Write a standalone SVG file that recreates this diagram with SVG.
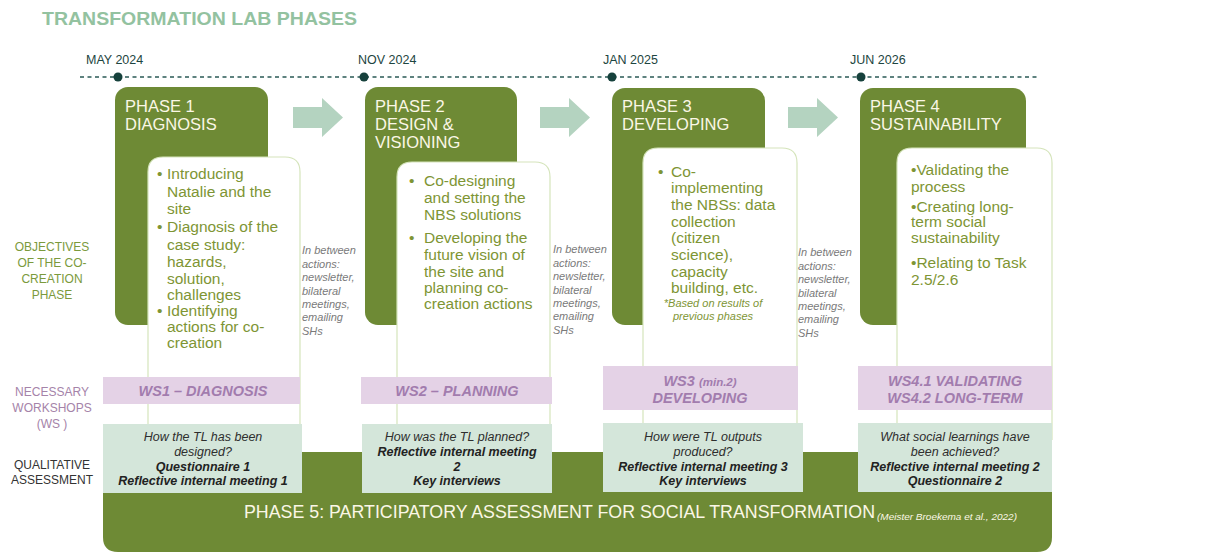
<svg xmlns="http://www.w3.org/2000/svg" width="1210" height="557" viewBox="0 0 1210 557">
<style>
.dark{fill:#6e8a35}
.wbox{fill:#fff;stroke:#d5e4bb;stroke-width:1.2}
.hdr{font-family:"Liberation Sans",Arial,sans-serif;font-size:16.5px;fill:#fbf7e6}
.bul{font-family:"Liberation Sans",Arial,sans-serif;font-size:15.5px;fill:#7e9534}
.note{font-family:"Liberation Sans",Arial,sans-serif;font-size:11px;font-style:italic;fill:#7e9534}
.btw{font-family:"Liberation Sans",Arial,sans-serif;font-size:11px;font-style:italic;fill:#7a7a7a}
.date{font-family:"Liberation Sans",Arial,sans-serif;font-size:12.5px;fill:#1d4541}
.lblg{font-family:"Liberation Sans",Arial,sans-serif;font-size:12px;fill:#7b9a3c;text-anchor:middle}
.lblp{font-family:"Liberation Sans",Arial,sans-serif;font-size:12px;fill:#a583a9;text-anchor:middle}
.lblk{font-family:"Liberation Sans",Arial,sans-serif;font-size:12px;fill:#333;text-anchor:middle}
.ws{fill:#e4d2e6}
.wst{font-family:"Liberation Sans",Arial,sans-serif;font-size:14.5px;font-weight:bold;font-style:italic;fill:#a27cae;text-anchor:middle}
.qa{fill:#d4e6da}
.qat{font-family:"Liberation Sans",Arial,sans-serif;font-size:12.5px;font-style:italic;fill:#2e2e2e;text-anchor:middle}
.qab{font-family:"Liberation Sans",Arial,sans-serif;font-size:12.5px;font-style:italic;font-weight:bold;fill:#222;text-anchor:middle}
.arr{fill:#b4d3c0}
.dot{fill:#16413c}
</style>

<text x="42" y="25" font-family="Liberation Sans,Arial,sans-serif" font-size="19" font-weight="bold" fill="#93c2a0" textLength="315" lengthAdjust="spacingAndGlyphs">TRANSFORMATION LAB PHASES</text>

<g id="timeline">
  <line x1="80" y1="77" x2="1040" y2="77" stroke="#2a5a55" stroke-width="1.3" stroke-dasharray="4 3.5"/>
  <circle class="dot" cx="118" cy="77" r="4.5"/>
  <circle class="dot" cx="364" cy="77" r="4.5"/>
  <circle class="dot" cx="612" cy="77" r="4.5"/>
  <circle class="dot" cx="861" cy="77" r="4.5"/>
  <text class="date" x="86" y="64">MAY 2024</text>
  <text class="date" x="358" y="64">NOV 2024</text>
  <text class="date" x="603" y="64">JAN 2025</text>
  <text class="date" x="850" y="64">JUN 2026</text>
</g>

<g id="labels">
  <text class="lblg" x="52" y="251">OBJECTIVES</text>
  <text class="lblg" x="52" y="267">OF THE CO-</text>
  <text class="lblg" x="52" y="283">CREATION</text>
  <text class="lblg" x="52" y="299">PHASE</text>
  <text class="lblp" x="52" y="396">NECESSARY</text>
  <text class="lblp" x="52" y="412">WORKSHOPS</text>
  <text class="lblp" x="52" y="428">(WS )</text>
  <text class="lblk" x="52" y="469">QUALITATIVE</text>
  <text class="lblk" x="52" y="484">ASSESSMENT</text>
</g>

<g id="phase5">
  <path class="dark" d="M103 452 H1052 V537 Q1052 552 1037 552 H118 Q103 552 103 537 Z"/>
  <text x="244" y="518" font-family="Liberation Sans,Arial,sans-serif" font-size="17.5" fill="#fbf7e6" textLength="631" lengthAdjust="spacingAndGlyphs">PHASE 5: PARTICIPATORY ASSESSMENT FOR SOCIAL TRANSFORMATION</text>
  <text x="877" y="520" font-family="Liberation Sans,Arial,sans-serif" font-size="9" font-style="italic" fill="#fbf7e6" textLength="140" lengthAdjust="spacingAndGlyphs">(Meister Broekema et al., 2022)</text>
</g>

<g id="connectors">
  <path class="arr" d="M293 107 H322 V98 L343 117.5 L322 137 V128 H293 Z"/>
  <path class="arr" d="M540 107 H569 V98 L590 117.5 L569 137 V128 H540 Z"/>
  <path class="arr" d="M788 107 H817 V98 L838 117.5 L817 137 V128 H788 Z"/>
</g>

<g id="phase1">
  <rect class="dark" x="115" y="87" width="153" height="238" rx="13"/>
  <text class="hdr" x="125" y="112">PHASE 1</text>
  <text class="hdr" x="125" y="130">DIAGNOSIS</text>
  <path class="wbox" d="M148 440 V172 Q148 157 163 157 H285 Q300 157 300 172 V440"/>
  <g class="bul">
    <text x="157" y="179">•</text><text x="167" y="179">Introducing</text>
    <text x="167" y="197">Natalie and the</text>
    <text x="167" y="214">site</text>
    <text x="157" y="232">•</text><text x="167" y="232">Diagnosis of the</text>
    <text x="167" y="250">case study:</text>
    <text x="167" y="267">hazards,</text>
    <text x="167" y="284">solution,</text>
    <text x="167" y="300">challenges</text>
    <text x="157" y="316">•</text><text x="167" y="316">Identifying</text>
    <text x="167" y="332">actions for co-</text>
    <text x="167" y="348">creation</text>
  </g>
</g>

<g id="between1" class="btw">
  <text x="302" y="254">In between</text>
  <text x="302" y="268">actions:</text>
  <text x="302" y="281">newsletter,</text>
  <text x="302" y="295">bilateral</text>
  <text x="302" y="308">meetings,</text>
  <text x="302" y="321">emailing</text>
  <text x="302" y="335">SHs</text>
</g>

<g id="phase2">
  <rect class="dark" x="365" y="87" width="152" height="238" rx="13"/>
  <text class="hdr" x="375" y="112">PHASE 2</text>
  <text class="hdr" x="375" y="130">DESIGN &amp;</text>
  <text class="hdr" x="375" y="148">VISIONING</text>
  <path class="wbox" d="M397 440 V177 Q397 162 412 162 H535 Q550 162 550 177 V440"/>
  <g class="bul">
    <text x="409" y="186">•</text><text x="424" y="186">Co-designing</text>
    <text x="424" y="203">and setting the</text>
    <text x="424" y="220">NBS solutions</text>
    <text x="409" y="243">•</text><text x="424" y="243">Developing the</text>
    <text x="424" y="260">future vision of</text>
    <text x="424" y="277">the site and</text>
    <text x="424" y="293">planning co-</text>
    <text x="424" y="309">creation actions</text>
  </g>
</g>

<g id="between2" class="btw">
  <text x="553" y="253">In between</text>
  <text x="553" y="267">actions:</text>
  <text x="553" y="280">newsletter,</text>
  <text x="553" y="294">bilateral</text>
  <text x="553" y="307">meetings,</text>
  <text x="553" y="320">emailing</text>
  <text x="553" y="334">SHs</text>
</g>

<g id="phase3">
  <rect class="dark" x="612" y="88" width="153" height="237" rx="13"/>
  <text class="hdr" x="622" y="112">PHASE 3</text>
  <text class="hdr" x="622" y="130">DEVELOPING</text>
  <path class="wbox" d="M643 440 V163 Q643 148 658 148 H782 Q797 148 797 163 V440"/>
  <g class="bul">
    <text x="658" y="177">•</text><text x="671" y="177">Co-</text>
    <text x="671" y="193">implementing</text>
    <text x="671" y="210">the NBSs: data</text>
    <text x="671" y="227">collection</text>
    <text x="671" y="243">(citizen</text>
    <text x="671" y="260">science),</text>
    <text x="671" y="277">capacity</text>
    <text x="671" y="293">building, etc.</text>
  </g>
  <text class="note" x="713" y="307" text-anchor="middle">*Based on results of</text>
  <text class="note" x="713" y="320" text-anchor="middle">previous phases</text>
</g>

<g id="between3" class="btw">
  <text x="798" y="256">In between</text>
  <text x="798" y="270">actions:</text>
  <text x="798" y="283">newsletter,</text>
  <text x="798" y="297">bilateral</text>
  <text x="798" y="310">meetings,</text>
  <text x="798" y="323">emailing</text>
  <text x="798" y="337">SHs</text>
</g>

<g id="phase4">
  <rect class="dark" x="860" y="88" width="166" height="237" rx="13"/>
  <text class="hdr" x="870" y="112">PHASE 4</text>
  <text class="hdr" x="870" y="130">SUSTAINABILITY</text>
  <path class="wbox" d="M897 440 V163 Q897 148 912 148 H1037 Q1052 148 1052 163 V440"/>
  <g class="bul">
    <text x="911" y="175">•Validating the</text>
    <text x="911" y="192">process</text>
    <text x="911" y="212">•Creating long-</text>
    <text x="911" y="227">term social</text>
    <text x="911" y="243">sustainability</text>
    <text x="911" y="268">•Relating to Task</text>
    <text x="911" y="285">2.5/2.6</text>
  </g>
</g>

<g id="ws1">
  <rect class="ws" x="103" y="377" width="197" height="27"/>
  <text class="wst" x="203" y="396">WS1 – DIAGNOSIS</text>
</g>
<g id="ws2">
  <rect class="ws" x="361" y="377" width="191" height="27"/>
  <text class="wst" x="457" y="396">WS2 – PLANNING</text>
</g>
<g id="ws3">
  <rect class="ws" x="603" y="366" width="195" height="44"/>
  <text class="wst" x="700" y="386">WS3 <tspan font-size="11.5">(min.2)</tspan></text>
  <text class="wst" x="700" y="403">DEVELOPING</text>
</g>
<g id="ws4">
  <rect class="ws" x="858" y="366" width="194" height="44"/>
  <text class="wst" x="955" y="386">WS4.1 VALIDATING</text>
  <text class="wst" x="955" y="403">WS4.2 LONG-TERM</text>
</g>

<g id="qa1">
  <rect class="qa" x="103" y="424" width="199" height="69"/>
  <text class="qat" x="203" y="441">How the TL has been</text>
  <text class="qat" x="203" y="456">designed?</text>
  <text class="qab" x="203" y="471">Questionnaire 1</text>
  <text class="qab" x="203" y="485">Reflective internal meeting 1</text>
</g>
<g id="qa2">
  <rect class="qa" x="362" y="424" width="190" height="69"/>
  <text class="qat" x="457" y="441">How was the TL planned?</text>
  <text class="qab" x="457" y="456">Reflective internal meeting</text>
  <text class="qab" x="457" y="471">2</text>
  <text class="qab" x="457" y="485">Key interviews</text>
</g>
<g id="qa3">
  <rect class="qa" x="603" y="423" width="200" height="69"/>
  <text class="qat" x="703" y="441">How were TL outputs</text>
  <text class="qat" x="703" y="456">produced?</text>
  <text class="qab" x="703" y="471">Reflective internal meeting 3</text>
  <text class="qab" x="703" y="485">Key interviews</text>
</g>
<g id="qa4">
  <rect class="qa" x="858" y="423" width="194" height="69"/>
  <text class="qat" x="955" y="441">What social learnings have</text>
  <text class="qat" x="955" y="456">been achieved?</text>
  <text class="qab" x="955" y="471">Reflective internal meeting 2</text>
  <text class="qab" x="955" y="485">Questionnaire 2</text>
</g>
</svg>
